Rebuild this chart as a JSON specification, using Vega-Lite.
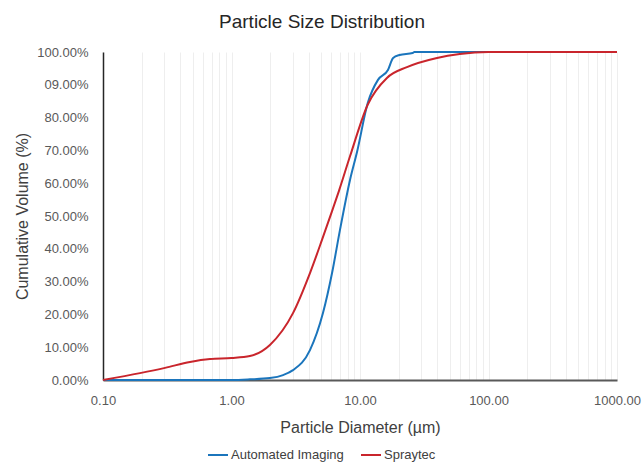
{
  "$schema": "https://vega.github.io/schema/vega-lite/v6.json",
  "width": 514,
  "height": 328,
  "autosize": {"type": "none"},
  "padding": {"left": 103, "top": 52, "right": 26, "bottom": 86},
  "background": "white",
  "title": {
    "text": "Particle Size Distribution",
    "font": "Liberation Sans",
    "fontSize": 19,
    "fontWeight": "normal",
    "color": "#262626",
    "anchor": "middle",
    "dx": -38,
    "offset": 14
  },
  "data": {
    "values": [
      {"d": 0.1, "v": 0, "s": "Automated Imaging"},
      {"d": 0.5, "v": 0, "s": "Automated Imaging"},
      {"d": 1.0, "v": 0, "s": "Automated Imaging"},
      {"d": 1.39, "v": 0.2, "s": "Automated Imaging"},
      {"d": 1.99, "v": 0.6, "s": "Automated Imaging"},
      {"d": 2.52, "v": 1.5, "s": "Automated Imaging"},
      {"d": 3.01, "v": 3.0, "s": "Automated Imaging"},
      {"d": 4.08, "v": 9.1, "s": "Automated Imaging"},
      {"d": 5.15, "v": 20.4, "s": "Automated Imaging"},
      {"d": 6.06, "v": 32.6, "s": "Automated Imaging"},
      {"d": 6.98, "v": 45.7, "s": "Automated Imaging"},
      {"d": 8.36, "v": 61.0, "s": "Automated Imaging"},
      {"d": 9.48, "v": 69.5, "s": "Automated Imaging"},
      {"d": 11.5, "v": 84.5, "s": "Automated Imaging"},
      {"d": 13.8, "v": 91.5, "s": "Automated Imaging"},
      {"d": 16.5, "v": 94.5, "s": "Automated Imaging"},
      {"d": 18.1, "v": 98.2, "s": "Automated Imaging"},
      {"d": 20.3, "v": 99.1, "s": "Automated Imaging"},
      {"d": 25.7, "v": 99.7, "s": "Automated Imaging"},
      {"d": 26.5, "v": 100, "s": "Automated Imaging"},
      {"d": 100, "v": 100, "s": "Automated Imaging"},
      {"d": 1000, "v": 100, "s": "Automated Imaging"},
      {"d": 0.1, "v": 0, "s": "Spraytec"},
      {"d": 0.194, "v": 2.1, "s": "Spraytec"},
      {"d": 0.304, "v": 3.7, "s": "Spraytec"},
      {"d": 0.475, "v": 5.5, "s": "Spraytec"},
      {"d": 0.68, "v": 6.4, "s": "Spraytec"},
      {"d": 1.0, "v": 6.7, "s": "Spraytec"},
      {"d": 1.39, "v": 7.3, "s": "Spraytec"},
      {"d": 1.99, "v": 10.7, "s": "Spraytec"},
      {"d": 3.01, "v": 20.4, "s": "Spraytec"},
      {"d": 4.08, "v": 32.6, "s": "Spraytec"},
      {"d": 5.06, "v": 42.7, "s": "Spraytec"},
      {"d": 6.06, "v": 51.5, "s": "Spraytec"},
      {"d": 6.85, "v": 57.6, "s": "Spraytec"},
      {"d": 8.36, "v": 68.2, "s": "Spraytec"},
      {"d": 11.5, "v": 84.0, "s": "Spraytec"},
      {"d": 16.2, "v": 92.1, "s": "Spraytec"},
      {"d": 23.2, "v": 95.4, "s": "Spraytec"},
      {"d": 39.7, "v": 98.2, "s": "Spraytec"},
      {"d": 59.8, "v": 99.4, "s": "Spraytec"},
      {"d": 100, "v": 100, "s": "Spraytec"},
      {"d": 1000, "v": 100, "s": "Spraytec"}
    ]
  },
  "mark": {"type": "line", "strokeWidth": 2, "interpolate": "monotone"},
  "encoding": {
    "x": {
      "field": "d",
      "type": "quantitative",
      "scale": {"type": "log", "domain": [0.1, 1000], "nice": false},
      "axis": {
        "title": "Particle Diameter (µm)",
        "values": [0.1, 0.2, 0.3, 0.4, 0.5, 0.6, 0.7, 0.8, 0.9, 1, 2, 3, 4, 5, 6, 7, 8, 9, 10, 20, 30, 40, 50, 60, 70, 80, 90, 100, 200, 300, 400, 500, 600, 700, 800, 900, 1000],
        "labelExpr": "indexof([0.1, 1, 10, 100, 1000], datum.value) >= 0 ? format(datum.value, '.2f') : ''",
        "labelOverlap": false,
        "labelBound": false,
        "labelFlush": false,
        "grid": true,
        "gridColor": "#eeeeee",
        "gridWidth": 1,
        "ticks": false,
        "domainColor": "#595959",
        "domainWidth": 2,
        "labelPadding": 14,
        "labelFont": "Liberation Sans",
        "labelFontSize": 13,
        "labelColor": "#595959",
        "titleFont": "Liberation Sans",
        "titleFontSize": 16,
        "titleFontWeight": "normal",
        "titleColor": "#404040",
        "titlePadding": 12
      }
    },
    "y": {
      "field": "v",
      "type": "quantitative",
      "scale": {"domain": [0, 100], "nice": false},
      "axis": {
        "title": "Cumulative Volume (%)",
        "values": [0, 10, 20, 30, 40, 50, 60, 70, 80, 90, 100],
        "labelExpr": "datum.value == 90 ? '09.00%' : format(datum.value, '.2f') + '%'",
        "grid": false,
        "ticks": false,
        "domainColor": "#262626",
        "domainWidth": 1.5,
        "labelPadding": 15,
        "labelFont": "Liberation Sans",
        "labelFontSize": 13,
        "labelColor": "#595959",
        "titleFont": "Liberation Sans",
        "titleFontSize": 16,
        "titleFontWeight": "normal",
        "titleColor": "#404040",
        "titlePadding": 6
      }
    },
    "color": {
      "field": "s",
      "type": "nominal",
      "scale": {"domain": ["Automated Imaging", "Spraytec"], "range": ["#1b75bc", "#c9252c"]},
      "legend": {
        "title": null,
        "orient": "none",
        "direction": "horizontal",
        "legendX": 104,
        "legendY": 392,
        "symbolType": "stroke",
        "symbolSize": 400,
        "symbolStrokeWidth": 2,
        "labelFont": "Liberation Sans",
        "labelFontSize": 13,
        "labelColor": "#404040",
        "labelOffset": 2,
        "columnPadding": 13
      }
    }
  },
  "config": {"view": {"stroke": null}}
}
